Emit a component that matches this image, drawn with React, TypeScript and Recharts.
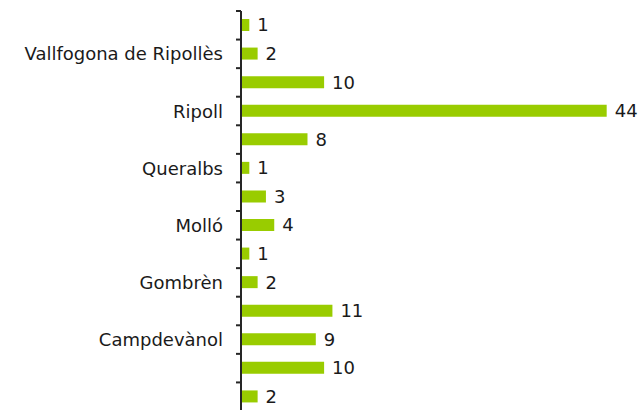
import React from "react";
import { BarChart, Bar, XAxis, YAxis, LabelList } from "recharts";

// top to bottom
const municipis = [
  "Vidrà",
  "Vallfogona de Ripollès",
  "Sant Joan de les Abadesses",
  "Ripoll",
  "Ribes de Freser",
  "Queralbs",
  "Planoles",
  "Molló",
  "Llanars",
  "Gombrèn",
  "Campelles",
  "Campdevànol",
  "Camprodon",
  "Alpens",
];
const valors = [1, 2, 10, 44, 8, 1, 3, 4, 1, 2, 11, 9, 10, 2];
const etiquetesVisibles = [
  "Vallfogona de Ripollès",
  "Ripoll",
  "Queralbs",
  "Molló",
  "Gombrèn",
  "Campdevànol",
];

const data = municipis.map((nom, i) => ({ nom, valor: valors[i] }));

const W = 639;
const H = 430;
const MARGIN = { top: 11, right: 24, bottom: 19, left: 0 };
const BAND = (H - MARGIN.top - MARGIN.bottom) / municipis.length;
const TICK_SIZE = 5;
const TICK_MARGIN = 13;
const FONT = "'DejaVu Sans', sans-serif";

function CategoryTick(props: any) {
  const { x, y, payload, index } = props;
  const axisX = x + TICK_SIZE + TICK_MARGIN;
  const show = etiquetesVisibles.includes(payload.value);
  return (
    <g>
      <line
        x1={axisX - TICK_SIZE}
        x2={axisX}
        y1={y - BAND / 2}
        y2={y - BAND / 2}
        stroke="#262626"
        strokeWidth={2}
      />
      {index === municipis.length - 1 && (
        <line
          x1={axisX - TICK_SIZE}
          x2={axisX}
          y1={y + BAND / 2}
          y2={y + BAND / 2}
          stroke="#262626"
          strokeWidth={2}
        />
      )}
      {show && (
        <text
          x={x}
          y={y}
          dy={6.5}
          textAnchor="end"
          fill="#1a1a1a"
          fontSize={18}
          fontFamily={FONT}
        >
          {payload.value}
        </text>
      )}
    </g>
  );
}

export default function App() {
  return (
    <div
      style={{
        position: "absolute",
        top: 0,
        left: 0,
        width: 639,
        height: 410,
        overflow: "hidden",
        background: "#fff",
      }}
    >
      <BarChart
        width={W}
        height={H}
        data={data}
        layout="vertical"
        margin={MARGIN}
      >
        <XAxis type="number" domain={[0, 45]} hide />
        <YAxis
          type="category"
          dataKey="nom"
          width={241}
          interval={0}
          tickSize={TICK_SIZE}
          tickMargin={TICK_MARGIN}
          tickLine={false}
          axisLine={{ stroke: "#262626", strokeWidth: 2 }}
          tick={<CategoryTick />}
        />
        <Bar dataKey="valor" fill="#99CC00" barSize={12} isAnimationActive={false}>
          <LabelList
            dataKey="valor"
            position="right"
            offset={8}
            fill="#1a1a1a"
            fontSize={18}
            fontFamily={FONT}
          />
        </Bar>
      </BarChart>
    </div>
  );
}
